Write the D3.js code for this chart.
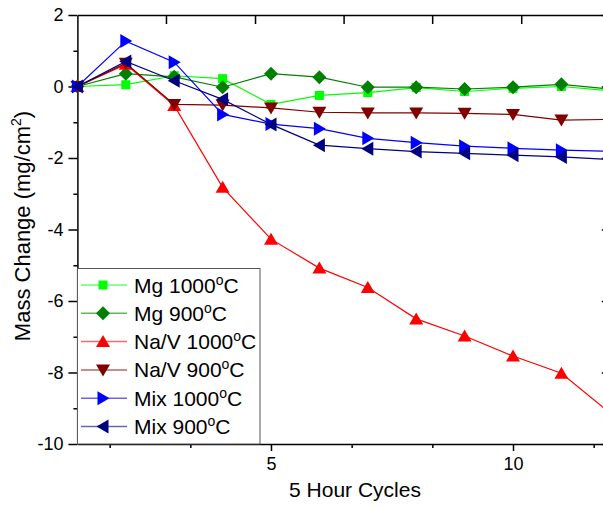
<!DOCTYPE html>
<html>
<head>
<meta charset="utf-8">
<script src="https://cdn.jsdelivr.net/npm/d3@7"></script>
<style>
  body { margin: 0; background: #fff; }
  svg { display: block; font-family: "Liberation Sans", Arial, sans-serif; }
  .axis path, .axis line { stroke: #000; stroke-width: 1.5; }
  .axis text { font-size: 18px; fill: #000; }
</style>
</head>
<body>
<div id="chart"></div>
<script>
// data
var cycles = [1, 2, 3, 4, 5, 6, 7, 8, 9, 10, 11, 12]
var mg1000  = [0, 0.05, 0.30, 0.22, -0.50, -0.25, -0.17, -0.03, -0.14, -0.05, 0.00, -0.12]
var mg900   = [0, 0.36, 0.27, -0.02, 0.36, 0.26, -0.02, -0.02, -0.07, -0.02, 0.06, -0.07]
var nav1000 = [0, 0.62, -0.53, -2.82, -4.27, -5.08, -5.62, -6.50, -6.98, -7.54, -8.02, -9.13]
var nav900  = [0, 0.65, -0.50, -0.52, -0.60, -0.72, -0.74, -0.74, -0.75, -0.78, -0.94, -0.92]
var mix1000 = [0, 1.27, 0.68, -0.78, -1.05, -1.18, -1.45, -1.57, -1.67, -1.73, -1.78, -1.81]
var mix900  = [0, 0.70, 0.16, -0.36, -1.06, -1.64, -1.74, -1.82, -1.87, -1.92, -1.97, -2.04]

var seriesNames = ['Mg 1000', 'Mg 900', 'Na/V 1000', 'Na/V 900', 'Mix 1000', 'Mix 900']
var xMajor = [5, 10]
var xMinor = [5 / 3, 10 / 3, 20 / 3, 25 / 3, 35 / 3]
var xTopTicks = [2.83, 4.67, 6.5, 8.33, 10.17]
var yMajor = [2, 0, -2, -4, -6, -8, -10]
var yMinor = [1, -1, -3, -5, -7, -9]

var series = [
  {name: seriesNames[0], values: mg1000,  color: '#00ff00', shape: 'square'},
  {name: seriesNames[1], values: mg900,   color: '#008000', shape: 'diamond'},
  {name: seriesNames[2], values: nav1000, color: '#ff0000', shape: 'up'},
  {name: seriesNames[3], values: nav900,  color: '#800000', shape: 'down'},
  {name: seriesNames[4], values: mix1000, color: '#0000ff', shape: 'right'},
  {name: seriesNames[5], values: mix900,  color: '#000080', shape: 'left'}
]

var W = 603, H = 507
var plot = {left: 77.4, right: 609.8, top: 15, bottom: 444}

var svg = d3.select('#chart').append('svg')
  .attr('width', W)
  .attr('height', H)

var x = d3.scaleLinear().domain([1, 12]).range([plot.left, plot.right])
var y = d3.scaleLinear().domain([-10, 2]).range([plot.bottom, plot.top])

function shapePath(s) {
  if (s == 'square') return 'M-4.5,-4.5H4.5V4.5H-4.5Z'
  if (s == 'diamond') return 'M0,-7L7,0L0,7L-7,0Z'
  if (s == 'up') return 'M0,-6.5L7,5.5L-7,5.5Z'
  if (s == 'down') return 'M0,6.5L7,-5.5L-7,-5.5Z'
  if (s == 'right') return 'M6.5,0L-5.5,7L-5.5,-7Z'
  return 'M-6.5,0L5.5,7L5.5,-7Z'
}

// axes
var gLeft = svg.append('g').attr('class', 'axis')
  .attr('transform', 'translate(' + plot.left + ',0)')
  .call(d3.axisLeft(y).tickValues(yMajor).tickSize(9).tickSizeOuter(0).tickPadding(5))
gLeft.selectAll('text').text(function(d) { return d })
gLeft.append('g')
  .call(d3.axisLeft(y).tickValues(yMinor).tickSize(4).tickSizeOuter(0).tickFormat(''))
  .select('.domain').remove()

var gBot = svg.append('g').attr('class', 'axis')
  .attr('transform', 'translate(0,' + plot.bottom + ')')
  .call(d3.axisBottom(x).tickValues(xMajor).tickSize(7).tickSizeOuter(0).tickPadding(6))
gBot.append('g')
  .call(d3.axisBottom(x).tickValues(xMinor).tickSize(4).tickSizeOuter(0).tickFormat(''))
  .select('.domain').remove()

svg.append('g').attr('class', 'axis')
  .attr('transform', 'translate(0,' + plot.top + ')')
  .call(d3.axisBottom(x).tickValues(xTopTicks).tickSize(9).tickSizeOuter(0).tickFormat(''))

svg.append('g').attr('class', 'axis')
  .attr('transform', 'translate(' + plot.right + ',0)')
  .call(d3.axisRight(y).tickValues(yMajor).tickSize(-8).tickSizeOuter(0).tickFormat(''))

// lines and markers
var line = d3.line()
  .x(function(d, i) { return x(cycles[i]) })
  .y(function(d) { return y(d) })

series.forEach(function(s) {
  var g = svg.append('g')
  g.append('path')
    .datum(s.values)
    .attr('fill', 'none')
    .attr('stroke', s.color)
    .attr('stroke-width', 1.2)
    .attr('d', line)
  g.selectAll('path.pt')
    .data(s.values)
    .enter()
    .append('path')
    .attr('class', 'pt')
    .attr('d', shapePath(s.shape))
    .attr('fill', s.color)
    .attr('transform', function(d, i) {
      return 'translate(' + x(cycles[i]) + ',' + y(d) + ')'
    })
})

// legend
var legend = svg.append('g')
legend.append('rect')
  .attr('x', plot.left)
  .attr('y', 268.5)
  .attr('width', 260 - plot.left)
  .attr('height', plot.bottom - 268.5)
  .attr('fill', '#fff')
  .attr('stroke', '#555')
  .attr('stroke-width', 1)

series.forEach(function(s, i) {
  var ly = 285 + i * 28.3
  legend.append('line')
    .attr('x1', 81).attr('x2', 127)
    .attr('y1', ly).attr('y2', ly)
    .attr('stroke', s.color)
    .attr('stroke-opacity', 0.6)
    .attr('stroke-width', 1.5)
  legend.append('path')
    .attr('d', shapePath(s.shape))
    .attr('fill', s.color)
    .attr('transform', 'translate(103,' + ly + ')')
  var t = legend.append('text')
    .attr('x', 134)
    .attr('y', ly + 7.5)
    .attr('font-size', '21px')
  t.append('tspan').text(s.name)
  t.append('tspan').attr('font-size', '14px').attr('dy', -8).text('o')
  t.append('tspan').attr('dy', 8).text('C')
})

// axis titles
svg.append('text')
  .attr('x', 355)
  .attr('y', 497)
  .attr('text-anchor', 'middle')
  .attr('font-size', '21px')
  .text('5 Hour Cycles')

var yt = svg.append('text')
  .attr('transform', 'translate(30,226) rotate(-90)')
  .attr('text-anchor', 'middle')
  .attr('font-size', '22px')
yt.append('tspan').text('Mass Change (mg/cm')
yt.append('tspan').attr('font-size', '14px').attr('dy', -9).text('2')
yt.append('tspan').attr('dy', 9).text(')')
</script>
</body>
</html>
